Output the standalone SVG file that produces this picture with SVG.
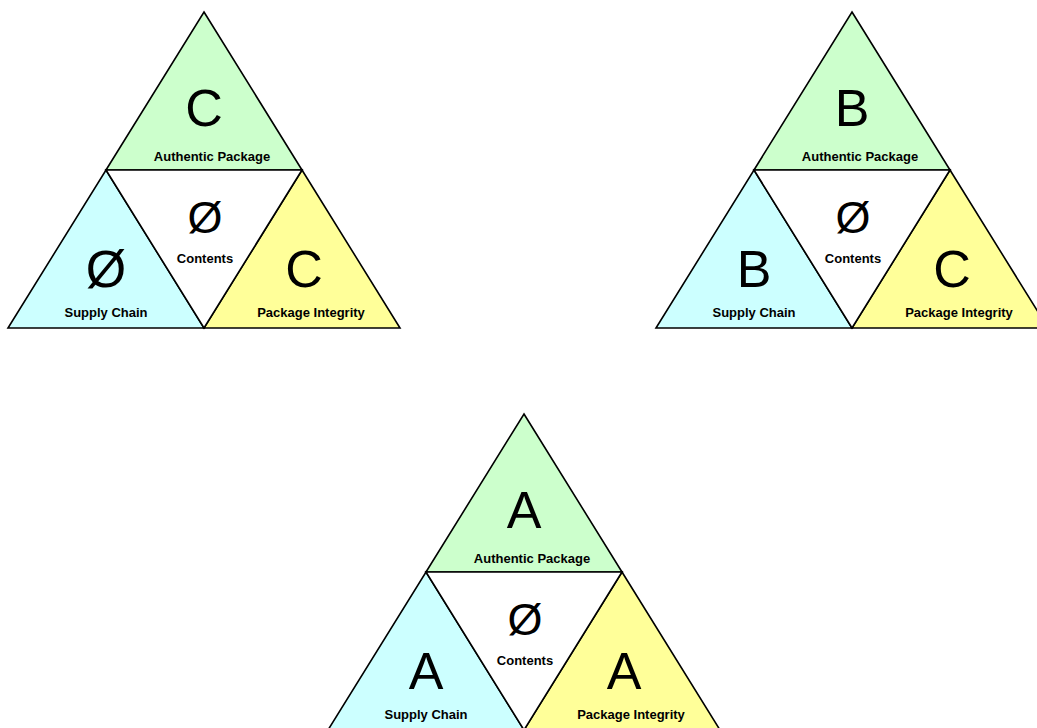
<svg xmlns="http://www.w3.org/2000/svg" width="1037" height="728" viewBox="0 0 1037 728">
<style>
.tri{stroke:#000;stroke-width:1.6;stroke-linejoin:miter}
.g{fill:#CCFFCC}.c{fill:#CCFFFF}.y{fill:#FFFF99}.w{fill:#FFFFFF}
.big{font-family:"Liberation Sans",Arial,sans-serif;font-size:52px;fill:#000;text-anchor:middle}
.mid{font-family:"Liberation Sans",Arial,sans-serif;font-size:45px;fill:#000;text-anchor:middle}
.lbl{font-family:"Liberation Sans",Arial,sans-serif;font-size:13px;font-weight:bold;fill:#000;text-anchor:middle}
</style>
<rect width="1037" height="728" fill="#fff"/>
<g id="triad-c" transform="translate(0,0)">
<polygon class="tri g" points="204,12 302,170 106,170"/>
<polygon class="tri c" points="106,170 204,328 8,328"/>
<polygon class="tri y" points="302,170 400,328 204,328"/>
<polygon class="tri w" points="106,170 302,170 204,328"/>
<text class="big" x="204" y="126">C</text>
<text class="lbl" x="212" y="161">Authentic Package</text>
<text class="mid" x="205" y="233">Ø</text>
<text class="lbl" x="205" y="263">Contents</text>
<text class="big" x="106" y="287">Ø</text>
<text class="lbl" x="106" y="317">Supply Chain</text>
<text class="big" x="304" y="287">C</text>
<text class="lbl" x="311" y="317">Package Integrity</text>
</g>
<g id="triad-b" transform="translate(648,0)">
<polygon class="tri g" points="204,12 302,170 106,170"/>
<polygon class="tri c" points="106,170 204,328 8,328"/>
<polygon class="tri y" points="302,170 400,328 204,328"/>
<polygon class="tri w" points="106,170 302,170 204,328"/>
<text class="big" x="204" y="126">B</text>
<text class="lbl" x="212" y="161">Authentic Package</text>
<text class="mid" x="205" y="233">Ø</text>
<text class="lbl" x="205" y="263">Contents</text>
<text class="big" x="106" y="287">B</text>
<text class="lbl" x="106" y="317">Supply Chain</text>
<text class="big" x="304" y="287">C</text>
<text class="lbl" x="311" y="317">Package Integrity</text>
</g>
<g id="triad-a" transform="translate(320,402)">
<polygon class="tri g" points="204,12 302,170 106,170"/>
<polygon class="tri c" points="106,170 204,328 8,328"/>
<polygon class="tri y" points="302,170 400,328 204,328"/>
<polygon class="tri w" points="106,170 302,170 204,328"/>
<text class="big" x="204" y="126">A</text>
<text class="lbl" x="212" y="161">Authentic Package</text>
<text class="mid" x="205" y="233">Ø</text>
<text class="lbl" x="205" y="263">Contents</text>
<text class="big" x="106" y="287">A</text>
<text class="lbl" x="106" y="317">Supply Chain</text>
<text class="big" x="304" y="287">A</text>
<text class="lbl" x="311" y="317">Package Integrity</text>
</g>
<g id="connectors"></g>
</svg>
